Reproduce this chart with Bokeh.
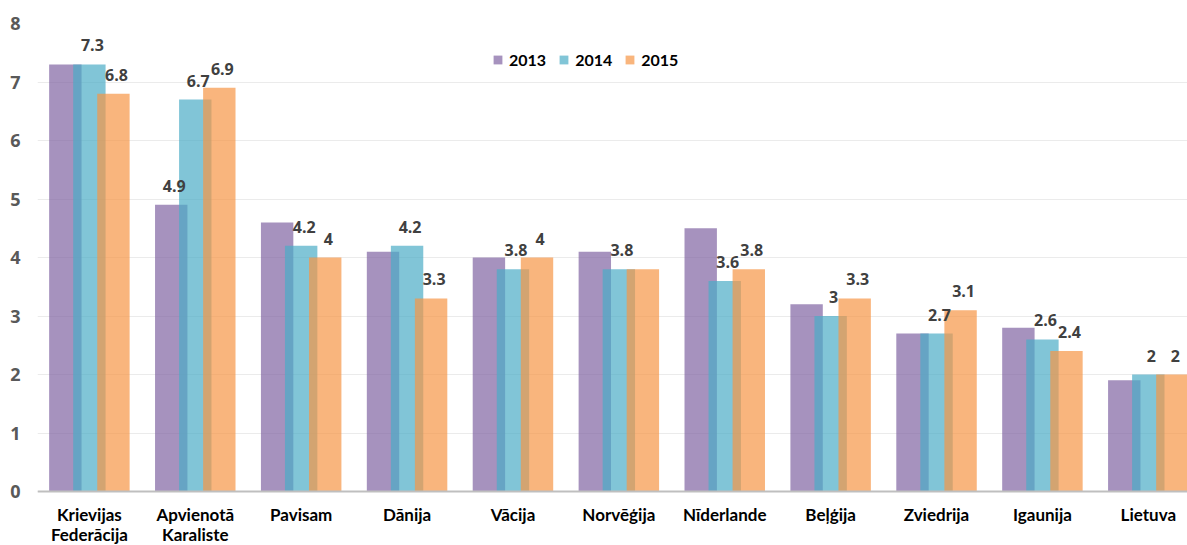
from bokeh.plotting import figure
from bokeh.models import ColumnDataSource, Range1d, FixedTicker, Legend, LegendItem, Span
from bokeh.core.properties import value
from bokeh.embed import file_html
from bokeh.resources import INLINE

categories = ["Krievijas\nFederācija", "Apvienotā\nKaraliste", "Pavisam", "Dānija", "Vācija",
              "Norvēģija", "Nīderlande", "Beļģija", "Zviedrija", "Igaunija", "Lietuva"]
years = ["2013", "2014", "2015"]
v2013 = [7.3, 4.9, 4.6, 4.1, 4.0, 4.1, 4.5, 3.2, 2.7, 2.8, 1.9]
v2014 = [7.3, 6.7, 4.2, 4.2, 3.8, 3.8, 3.6, 3.0, 2.7, 2.6, 2.0]
v2015 = [6.8, 6.9, 4.0, 3.3, 4.0, 3.8, 3.8, 3.3, 3.1, 2.4, 2.0]
# which bars carry a data label (None = no label shown)
lab2013 = [None, 4.9, None, None, None, None, None, None, None, None, None]
lab2014 = [7.3, 6.7, 4.2, 4.2, 3.8, 3.8, 3.6, 3.0, 2.7, 2.6, 2.0]
lab2015 = [6.8, 6.9, 4.0, 3.3, 4.0, None, 3.8, 3.3, 3.1, 2.4, 2.0]
yticks = [0, 1, 2, 3, 4, 5, 6, 7, 8]

colors = ["#8064A2", "#4BACC6", "#F79646"]
offsets = [-0.227, 0.0, 0.227]
bar_w = 0.306

# frame spans down to the canvas bottom; the room below 0 holds the category labels
p = figure(width=1187, height=545, output_backend="svg", toolbar_location=None,
           x_range=Range1d(-0.49, 10.37), y_range=Range1d(-0.923, 8),
           min_border_left=37, min_border_right=0, min_border_top=23, min_border_bottom=0)
p.outline_line_color = None
p.xaxis.visible = False

idx = list(range(len(categories)))
renderers = []
for vals, col, off in zip([v2013, v2014, v2015], colors, offsets):
    src = ColumnDataSource(dict(x=[i + off for i in idx], top=vals))
    r = p.vbar(x="x", top="top", bottom=0, width=bar_w, source=src, fill_color=col,
               fill_alpha=0.7, line_color=None)
    renderers.append(r)

# baseline
p.add_layout(Span(location=0, dimension="width", line_color="#BFBFBF", line_width=2))

for labs, off in zip([lab2013, lab2014, lab2015], offsets):
    xs = [i + off for i, l in zip(idx, labs) if l is not None]
    ys = [l for l in labs if l is not None]
    txt = [("%g" % l) for l in ys]
    p.text(x=xs, y=ys, text=txt, text_align="center", text_baseline="middle",
           x_offset=3, y_offset=-19,
           text_font=value("Open Sans"), text_font_style="bold", text_font_size="16px",
           text_color="#404040")

# category labels below the baseline
line1 = [c.split("\n")[0] for c in categories]
xs2 = [i for i, c in zip(idx, categories) if "\n" in c]
line2 = [c.split("\n")[1] for c in categories if "\n" in c]
p.text(x=idx, y=[0] * len(idx), text=line1, text_align="center", text_baseline="middle",
       y_offset=23, text_font=value("Lato"), text_font_style="bold", text_font_size="17px",
       text_color="#000000")
p.text(x=xs2, y=[0] * len(xs2), text=line2, text_align="center", text_baseline="middle",
       y_offset=43, text_font=value("Lato"), text_font_style="bold", text_font_size="17px",
       text_color="#000000")

p.yaxis.ticker = FixedTicker(ticks=yticks)
p.yaxis.axis_line_color = None
p.yaxis.major_tick_line_color = None
p.yaxis.minor_tick_line_color = None
p.yaxis.major_label_standoff = 11
p.yaxis.major_label_text_font = "Open Sans"
p.yaxis.major_label_text_font_style = "bold"
p.yaxis.major_label_text_font_size = "18px"
p.yaxis.major_label_text_color = "#595959"

p.xgrid.grid_line_color = None
p.ygrid.ticker = FixedTicker(ticks=yticks)
p.ygrid.grid_line_color = "#EBEBEB"
p.ygrid.grid_line_width = 1

legend = Legend(items=[LegendItem(label=y, renderers=[r]) for y, r in zip(years, renderers)],
                orientation="horizontal", location=(455, 476))
legend.background_fill_alpha = 0
legend.border_line_color = None
legend.label_text_font = "Lato"
legend.label_text_font_style = "bold"
legend.label_text_font_size = "16px"
legend.label_text_color = "#000000"
legend.glyph_width = 11
legend.glyph_height = 11
legend.label_standoff = 6
legend.spacing = 12
legend.padding = 0
legend.margin = 0
p.add_layout(legend, "center")

open("out.html", "w").write(file_html(p, INLINE))
